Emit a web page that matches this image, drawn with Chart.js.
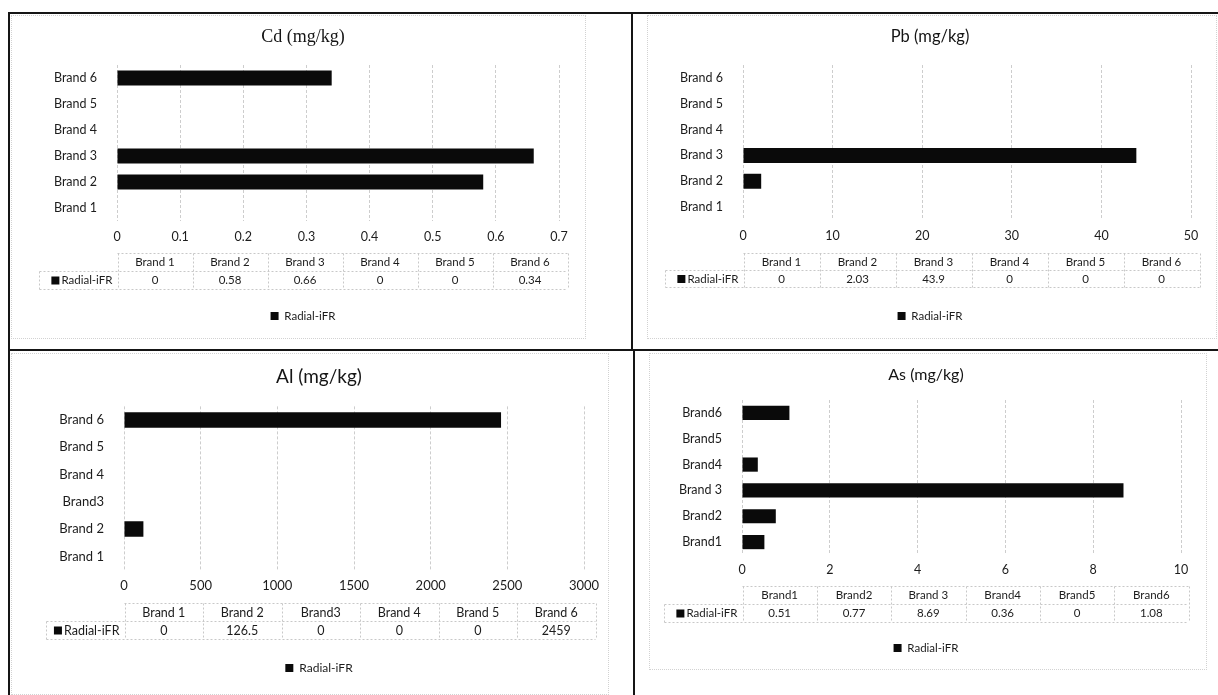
<!DOCTYPE html>
<html>
<head>
<meta charset="utf-8">
<script src="https://cdn.jsdelivr.net/npm/chart.js@4.4.1/dist/chart.umd.min.js"></script>
<style>
    html, body { margin: 0; padding: 0; background: #fff; }
    body { width: 1218px; height: 695px; position: relative; overflow: hidden; }
    canvas { position: absolute; }
    .rule { position: absolute; background: #151515; }
    .frame { position: absolute; border: 1px dotted #d2d2d2; }
</style>
</head>
<body>
<div class="frame" style="left:11px;top:15px;width:573px;height:322px"></div>
<div class="frame" style="left:647px;top:15px;width:568px;height:322px"></div>
<div class="frame" style="left:11px;top:353px;width:596px;height:340px"></div>
<div class="frame" style="left:649px;top:353px;width:556px;height:315px"></div>

<div class="rule" style="left:8px;top:12px;width:1210px;height:2px"></div>
<div class="rule" style="left:8px;top:12px;width:2px;height:683px"></div>
<div class="rule" style="left:8px;top:349px;width:1210px;height:2px"></div>
<div class="rule" style="left:631px;top:12px;width:2px;height:338px"></div>
<div class="rule" style="left:633px;top:349px;width:2px;height:346px"></div>

<canvas id="cdChart" width="620" height="334" style="left:10px;top:14px"></canvas>
<canvas id="pbChart" width="584" height="334" style="left:632px;top:14px"></canvas>
<canvas id="alChart" width="620" height="343" style="left:10px;top:352px"></canvas>
<canvas id="asChart" width="582" height="343" style="left:634px;top:352px"></canvas>

<script>
const seriesName = 'Radial-iFR';

const cdLabels = ['Brand 1', 'Brand 2', 'Brand 3', 'Brand 4', 'Brand 5', 'Brand 6'];
const cdValues = [0, 0.58, 0.66, 0, 0, 0.34];
const cdMax = 0.7, cdStep = 0.1;

const pbLabels = ['Brand 1', 'Brand 2', 'Brand 3', 'Brand 4', 'Brand 5', 'Brand 6'];
const pbValues = [0, 2.03, 43.9, 0, 0, 0];
const pbMax = 50, pbStep = 10;

const alLabels = ['Brand 1', 'Brand 2', 'Brand3', 'Brand 4', 'Brand 5', 'Brand 6'];
const alValues = [0, 126.5, 0, 0, 0, 2459];
const alMax = 3000, alStep = 500;

const asLabels = ['Brand1', 'Brand2', 'Brand 3', 'Brand4', 'Brand5', 'Brand6'];
const asValues = [0.51, 0.77, 8.69, 0.36, 0, 1.08];
const asMax = 10, asStep = 2;

const sans = 'Lato, "Open Sans", sans-serif';
const ink = '#1c1c1c';

// Excel-style data table under the x axis
const dataTablePlugin = {
    id: 'dataTable',
    afterDraw(chart, args, opts) {
        const {ctx, chartArea} = chart;
        const labels = chart.data.labels;
        const dataset = chart.data.datasets[0];
        const left = Math.round(chartArea.left) + 0.5;
        const right = Math.round(chartArea.right + opts.extend) + 0.5;
        const colW = (right - left) / labels.length;
        const top = Math.round(chartArea.bottom + opts.offset) + 0.5;
        const rowH = opts.rowHeight;
        const rowLeft = left - opts.labelWidth;

        ctx.save();
        ctx.strokeStyle = '#c8c8c8';
        ctx.lineWidth = 1;
        ctx.setLineDash([2, 2]);
        ctx.beginPath();
        ctx.moveTo(left, top); ctx.lineTo(right, top);
        ctx.moveTo(rowLeft, top + rowH); ctx.lineTo(right, top + rowH);
        ctx.moveTo(rowLeft, top + 2 * rowH); ctx.lineTo(right, top + 2 * rowH);
        for (let i = 0; i <= labels.length; i++) {
            const x = Math.round(left + i * colW) + 0.5;
            ctx.moveTo(x, top); ctx.lineTo(x, top + 2 * rowH);
        }
        ctx.moveTo(rowLeft, top + rowH); ctx.lineTo(rowLeft, top + 2 * rowH);
        ctx.stroke();
        ctx.setLineDash([]);

        ctx.fillStyle = ink;
        ctx.font = opts.fontSize + 'px ' + sans;
        ctx.textAlign = 'center';
        ctx.textBaseline = 'middle';
        labels.forEach((label, i) => {
            const cx = left + (i + 0.5) * colW;
            ctx.fillText(label, cx, top + rowH / 2);
            ctx.fillText(String(dataset.data[i]), cx, top + rowH * 1.5);
        });

        ctx.textAlign = 'right';
        const textRight = left - 5;
        ctx.fillText(dataset.label, textRight, top + rowH * 1.5);
        const tw = ctx.measureText(dataset.label).width;
        ctx.fillStyle = '#0a0a0a';
        ctx.fillRect(textRight - tw - 10, top + rowH * 1.5 - 4, 8, 8);
        ctx.restore();
    }
};

function makeChart(id, title, labels, values, axisMax, axisStep, box) {
    const config = {
        type: 'bar',
        data: {
            labels: labels,
            datasets: [{
                label: seriesName,
                data: values,
                backgroundColor: '#0a0a0a',
                borderWidth: 0,
                categoryPercentage: 1,
                barPercentage: box.barPct
            }]
        },
        options: {
            indexAxis: 'y',
            responsive: false,
            animation: false,
            layout: {
                padding: {left: box.padL, right: box.padR, top: 0, bottom: box.padB}
            },
            scales: {
                x: {
                    min: 0,
                    max: axisMax,
                    afterFit: (scale) => { scale.height = box.xHeight; },
                    grid: {color: '#cdcdcd', drawTicks: false},
                    border: {display: false, dash: [3, 2]},
                    ticks: {
                        stepSize: axisStep,
                        padding: box.tickPad,
                        color: ink,
                        font: {family: sans, size: box.tickSize},
                        callback: (v) => String(+v.toFixed(3))
                    }
                },
                y: {
                    reverse: true,
                    afterFit: (scale) => { scale.width = box.yWidth; },
                    grid: {display: false},
                    border: {display: false},
                    ticks: {
                        padding: 12,
                        color: ink,
                        font: {family: sans, size: box.labelSize}
                    }
                }
            },
            plugins: {
                title: {
                    display: true,
                    text: title,
                    color: '#151515',
                    font: {family: box.titleFamily || sans, size: box.titleSize, weight: 'normal'},
                    padding: {top: box.titleTop, bottom: box.titleBottom}
                },
                legend: {
                    position: 'bottom',
                    labels: {
                        boxWidth: 8,
                        boxHeight: 8,
                        padding: 10,
                        color: ink,
                        font: {family: sans, size: box.legendSize}
                    }
                },
                tooltip: {enabled: false},
                dataTable: {
                    offset: box.tableOffset,
                    rowHeight: box.rowH,
                    extend: box.extend,
                    labelWidth: 78,
                    fontSize: box.tableSize
                }
            }
        },
        plugins: [dataTablePlugin]
    };
    return new Chart(document.getElementById(id), config);
}

makeChart('cdChart', 'Cd (mg/kg)', cdLabels, cdValues, cdMax, cdStep, {
    padL: 37, padR: 71, padB: 16.25, yWidth: 70, xHeight: 79.25, tickPad: 8,
    titleFamily: '"Liberation Serif", "DejaVu Serif", serif', titleSize: 18, titleTop: 12.2, titleBottom: 17.2,
    tickSize: 12.5, labelSize: 12.5, tableSize: 11.5, legendSize: 11.5,
    tableOffset: 32, rowH: 18, extend: 8, barPct: 0.58
});

makeChart('pbChart', 'Pb (mg/kg)', pbLabels, pbValues, pbMax, pbStep, {
    padL: 37, padR: 25, padB: 16.25, yWidth: 74, xHeight: 80.25, tickPad: 8,
    titleSize: 16.5, titleTop: 13.1, titleBottom: 18.1,
    tickSize: 12.5, labelSize: 12.5, tableSize: 11.5, legendSize: 11.5,
    tableOffset: 33, rowH: 17, extend: 8, barPct: 0.58
});

makeChart('alChart', 'Al (mg/kg)', alLabels, alValues, alMax, alStep, {
    padL: 44, padR: 46, padB: 11, yWidth: 70, xHeight: 82, tickPad: 8,
    titleSize: 19, titleTop: 13.6, titleBottom: 18,
    tickSize: 13, labelSize: 13, tableSize: 12.5, legendSize: 12,
    tableOffset: 33, rowH: 18, extend: 11, barPct: 0.57
});

makeChart('asChart', 'As (mg/kg)', asLabels, asValues, asMax, asStep, {
    padL: 37, padR: 35, padB: 31.25, yWidth: 71, xHeight: 77.25, tickPad: 7.5,
    titleSize: 16, titleTop: 13.4, titleBottom: 15.4,
    tickSize: 12.5, labelSize: 12.5, tableSize: 11.5, legendSize: 11.5,
    tableOffset: 31, rowH: 18, extend: 7, barPct: 0.55
});
</script>
</body>
</html>
